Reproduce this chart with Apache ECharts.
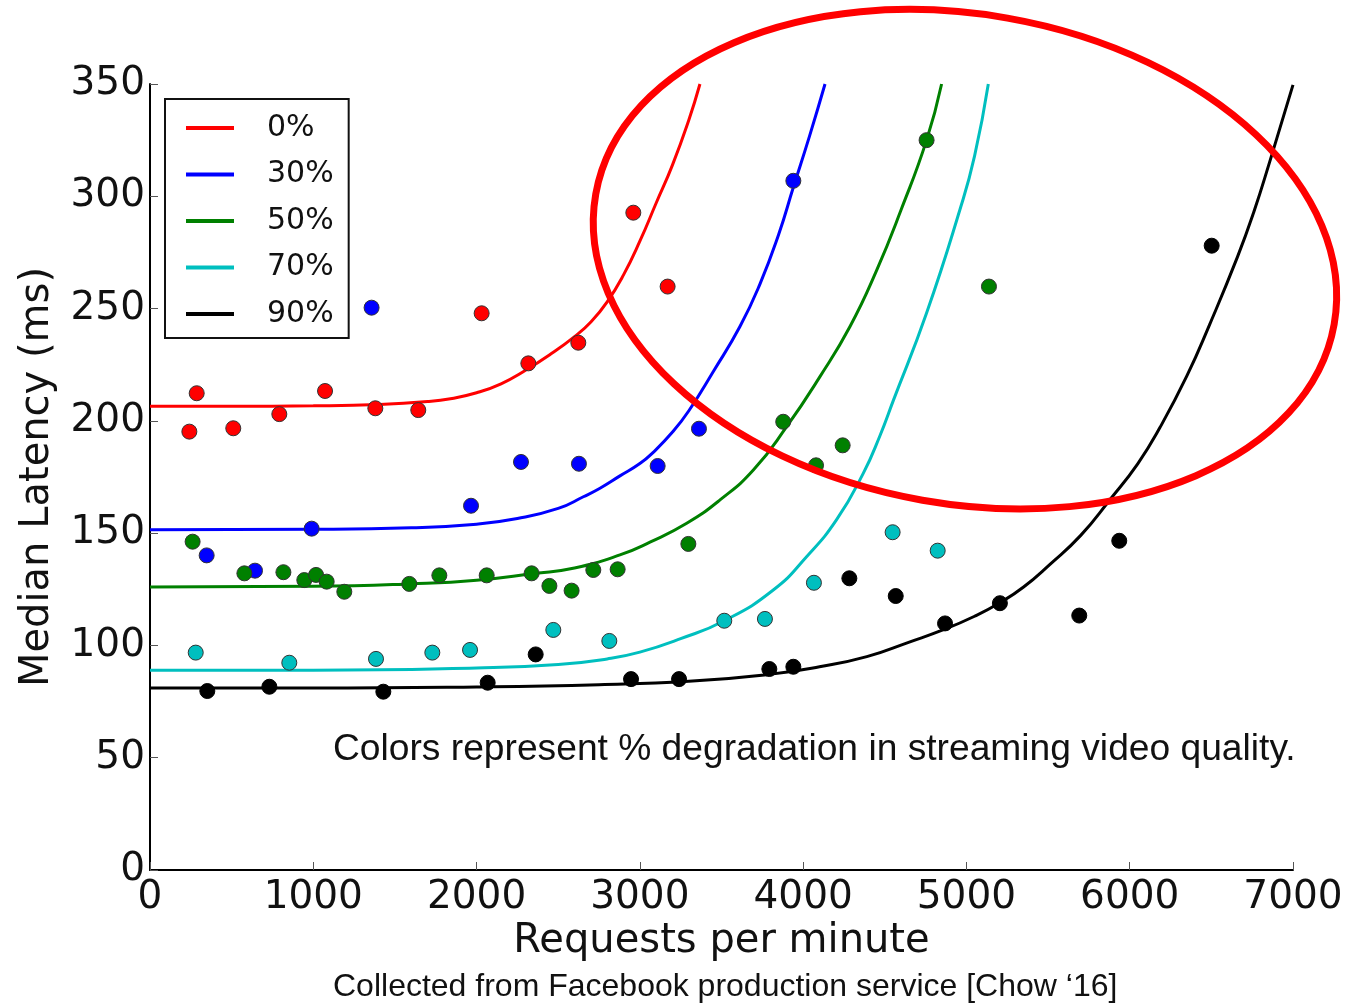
<!DOCTYPE html>
<html><head><meta charset="utf-8">
<script src="https://cdn.jsdelivr.net/npm/echarts@6/dist/echarts.min.js"></script>
<style>html,body{margin:0;padding:0;background:#fff}#c{width:1362px;height:1005px}</style>
</head><body><div id="c"></div>
<script>
// ---- Data ----
const seriesNames = ['0%', '30%', '50%', '70%', '90%'];
const seriesColors = ['#ff0000', '#0000ff', '#008000', '#00bfbf', '#000000'];

// measured points (requests per minute, median latency ms)
const red_x   = [241, 286, 510, 792, 1072, 1380, 1643, 2031, 2317, 2623, 2960, 3170];
const red_y   = [195.2, 212.3, 196.7, 203, 213.3, 205.6, 204.8, 247.9, 225.6, 234.8, 292.7, 259.8];
const blue_x  = [347, 643, 990, 1357, 1966, 2272, 2627, 3109, 3362, 3940];
const blue_y  = [140.1, 133.3, 152, 250.4, 162.2, 181.7, 180.9, 179.9, 196.5, 306.9];
const green_x = [261, 578, 817, 945, 1017, 1082, 1190, 1588, 1772, 2062, 2337, 2446, 2582, 2715, 2864, 3297, 3878, 4079, 4242, 4756, 5138];
const green_y = [146.2, 132.1, 132.6, 129.1, 131.4, 128.4, 123.9, 127.4, 131.2, 131.2, 132.1, 126.5, 124.4, 133.6, 133.9, 145.2, 199.6, 180.2, 189.1, 325, 259.8];
const cyan_x  = [280, 853, 1384, 1729, 1960, 2470, 2813, 3517, 3766, 4066, 4548, 4824];
const cyan_y  = [96.8, 92.3, 94, 96.8, 98, 106.9, 102, 111, 111.8, 127.9, 150.4, 142.2];
const black_x = [351, 731, 1429, 2068, 2362, 2946, 3240, 3793, 3940, 4283, 4567, 4869, 5205, 5691, 5936, 6502];
const black_y = [79.7, 81.6, 79.4, 83.4, 96, 85, 85, 89.5, 90.5, 129.9, 122, 109.8, 118.8, 113.3, 146.6, 278];

// fitted curves
const redFit_x   = [0, 500, 1000, 1400, 1700, 1850, 2000, 2150, 2300, 2450, 2600, 2700, 2800, 2900, 3000, 3100, 3200, 3300, 3368];
const redFit_y   = [206.5, 206.5, 206.7, 207.3, 208.6, 210, 212.5, 216.5, 222.5, 229.5, 237.5, 244, 253, 265, 280, 297, 314, 334, 350];
const blueFit_x  = [0, 1000, 1600, 2000, 2250, 2500, 2654, 2756, 2878, 3000, 3082, 3200, 3300, 3450, 3613, 3736, 3850, 3940, 4040, 4134];
const blueFit_y  = [151.5, 151.7, 152.4, 154, 156.5, 161, 166.2, 170, 175.5, 181, 186, 195, 204.5, 222, 242, 261, 283, 304, 327, 350];
const greenFit_x = [0, 1000, 1600, 2000, 2350, 2600, 2878, 3062, 3287, 3491, 3695, 3899, 4103, 4287, 4450, 4600, 4756, 4848];
const greenFit_y = [126, 126.3, 127.4, 129, 132, 134.5, 140.3, 146, 154.4, 164.8, 178.1, 197.4, 219.7, 242, 267, 294, 325, 350];
const cyanFit_x  = [0, 1000, 2000, 2500, 2800, 3000, 3250, 3517, 3817, 4021, 4205, 4368, 4471, 4552, 4756, 4960, 5050, 5134];
const cyanFit_y  = [89, 89, 90, 91.5, 94, 97, 103, 111, 124.7, 139.5, 156, 176.6, 193.5, 209, 248, 294, 318, 350];
const blackFit_x = [0, 1000, 2000, 2750, 3300, 3780, 4100, 4390, 4650, 4860, 5050, 5205, 5350, 5510, 5700, 5880, 6050, 6185, 6350, 6490, 6660, 6760, 6860, 7000];
const blackFit_y = [81, 81, 81.5, 82.5, 84, 87, 90.5, 95, 101.5, 107, 113, 119, 126, 136, 149, 165, 181, 197, 220, 243, 273, 293, 316, 349.6];

// annotation ellipse (data coords: center, half-widths)
const ellipseCenter = [4991, 272];
const ellipseHalfX = 2296;
const ellipseHalfY = 109;

const xTicks = [0, 1000, 2000, 3000, 4000, 5000, 6000, 7000];
const yTicks = [0, 50, 100, 150, 200, 250, 300, 350];

// ---- Build ----
const zip = (a, b) => a.map((v, i) => [v, b[i]]);
const pts = [zip(red_x, red_y), zip(blue_x, blue_y), zip(green_x, green_y), zip(cyan_x, cyan_y), zip(black_x, black_y)];
const fits = [zip(redFit_x, redFit_y), zip(blueFit_x, blueFit_y), zip(greenFit_x, greenFit_y), zip(cyanFit_x, cyanFit_y), zip(blackFit_x, blackFit_y)];

const series = [];
seriesNames.forEach((n, i) => {
  series.push({
    name: n, type: 'line', data: fits[i], smooth: 0.5,
    showSymbol: false, symbol: 'none', z: 2,
    lineStyle: { color: seriesColors[i], width: 3 }, itemStyle: { color: seriesColors[i] }
  });
});
seriesNames.forEach((n, i) => {
  series.push({
    name: n + ' pts', type: 'scatter', data: pts[i], symbolSize: 15, z: 3,
    itemStyle: { color: seriesColors[i], borderColor: i === 4 ? '#000' : '#333', borderWidth: 1, opacity: 1 }
  });
});

const tickFont = { fontFamily: 'DejaVu Sans', fontSize: 39, color: '#111' };
const chart = echarts.init(document.getElementById('c'), null, { renderer: 'canvas' });
chart.setOption({
  animation: false,
  backgroundColor: '#fff',
  grid: { left: 150, right: 69, top: 84, bottom: 135, containLabel: false },
  xAxis: {
    type: 'value', min: 0, max: 7000, interval: 1000,
    name: 'Requests per minute', nameLocation: 'middle', nameGap: 50,
    nameTextStyle: { fontFamily: 'DejaVu Sans', fontSize: 40, color: '#111' },
    axisLine: { show: true, lineStyle: { color: '#000', width: 2 } },
    axisTick: { show: true, inside: true, length: 8, lineStyle: { color: '#555', width: 1 } },
    axisLabel: Object.assign({ margin: 8, formatter: v => String(v) }, tickFont),
    splitLine: { show: false }
  },
  yAxis: {
    type: 'value', min: 0, max: 350, interval: 50,
    name: 'Median Latency (ms)', nameLocation: 'middle', nameGap: 92, nameRotate: 90,
    nameTextStyle: { fontFamily: 'DejaVu Sans', fontSize: 40, color: '#111' },
    axisLine: { show: true, lineStyle: { color: '#000', width: 2 } },
    axisTick: { show: true, inside: true, length: 8, lineStyle: { color: '#555', width: 1 } },
    axisLabel: Object.assign({ margin: 5, formatter: v => String(v) }, tickFont),
    splitLine: { show: false }
  },
  legend: {
    data: seriesNames, orient: 'vertical', left: 165, top: 99,
    icon: 'rect', itemWidth: 48, itemHeight: 4, itemGap: 16.5,
    padding: [14, 15, 9, 21],
    borderColor: '#111', borderWidth: 2, backgroundColor: '#fff',
    textStyle: { fontFamily: 'DejaVu Sans', fontSize: 30, color: '#111', lineHeight: 30, padding: [0, 0, 0, 28] }
  },
  series: series
});

const c = chart.convertToPixel({ gridIndex: 0 }, ellipseCenter);
const e = chart.convertToPixel({ gridIndex: 0 }, [ellipseCenter[0] + ellipseHalfX, ellipseCenter[1] + ellipseHalfY]);
chart.setOption({
  graphic: [
    {
      type: 'ellipse', x: c[0], y: c[1], rotation: -10 * Math.PI / 180, z: 100,
      shape: { cx: 0, cy: 0, rx: e[0] - c[0], ry: c[1] - e[1] },
      style: { fill: 'none', stroke: '#ff0000', lineWidth: 7 }
    },
    {
      type: 'text', left: 333, top: 731, z: 100,
      style: { text: 'Colors represent % degradation in streaming video quality.', font: '37.2px "Liberation Sans", Arial, sans-serif', fill: '#111' }
    },
    {
      type: 'text', left: 333, top: 971, z: 100,
      style: { text: 'Collected from Facebook production service [Chow \u201816]', font: '32px "Liberation Sans", Arial, sans-serif', fill: '#111' }
    }
  ]
});
</script>
</body></html>
